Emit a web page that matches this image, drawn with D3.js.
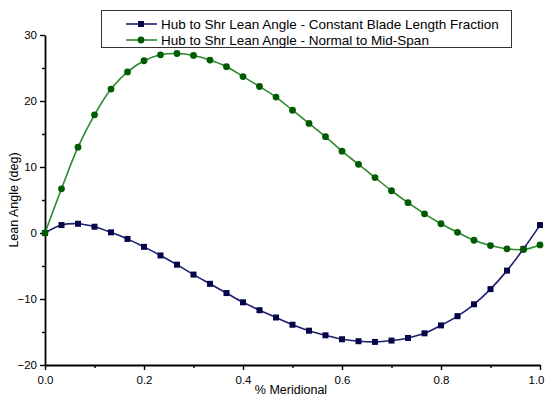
<!DOCTYPE html>
<html><head><meta charset="utf-8">
<script src="https://cdn.jsdelivr.net/npm/d3@7"></script>
<style>body{margin:0;background:#fff}svg{display:block}text{font-family:Arial,"Liberation Sans",sans-serif}</style>
</head><body>
<svg id="c" width="546" height="397"></svg>
<script>
const meridional = d3.range(31).map(i => i / 30);
const constantFraction = [0, 1.2, 1.4, 0.95, 0.1, -0.9, -2.1, -3.4, -4.8, -6.3,
  -7.7, -9.1, -10.5, -11.7, -12.8, -13.9, -14.8, -15.5, -16.1, -16.4,
  -16.5, -16.3, -15.9, -15.2, -14.0, -12.6, -10.8, -8.5, -5.7, -2.4, 1.2];
const normalMidSpan = [0, 6.7, 13.0, 17.9, 21.8, 24.4, 26.1, 27.0, 27.2, 26.9,
  26.2, 25.2, 23.7, 22.2, 20.6, 18.6, 16.6, 14.6, 12.4, 10.4,
  8.4, 6.4, 4.6, 2.9, 1.4, 0.1, -1.1, -1.9, -2.4, -2.5, -1.8];
const seriesNames = ["Hub to Shr Lean Angle - Constant Blade Length Fraction",
  "Hub to Shr Lean Angle - Normal to Mid-Span"];
const xTicks = [0, 0.2, 0.4, 0.6, 0.8, 1.0];
const yTicks = [-20, -10, 0, 10, 20, 30];

const svg = d3.select("#c");
const x = d3.scaleLinear().domain([0, 1]).range([45, 540]);
const y = d3.scaleLinear().domain([-20, 30]).range([365, 35]);

const blueLine = "#1f1f70", blueMark = "#05054a";
const greenLine = "#2b8a2b", greenMark = "#005a00";

// axes
const xAxis = svg.append("g").attr("transform", `translate(0,${y(-20)})`)
  .call(d3.axisBottom(x).tickValues(xTicks).tickFormat(d3.format(".1f")).tickSize(5).tickSizeOuter(0));
svg.append("g").attr("transform", `translate(0,${y(-20)})`)
  .call(d3.axisBottom(x).tickValues(d3.range(0.1, 1, 0.2)).tickFormat("").tickSize(3).tickSizeOuter(0))
  .select(".domain").remove();
const yAxis = svg.append("g").attr("transform", `translate(${x(0)},0)`)
  .call(d3.axisLeft(y).tickValues(yTicks).tickFormat(d3.format("d")).tickSize(5).tickSizeOuter(0));
svg.append("g").attr("transform", `translate(${x(0)},0)`)
  .call(d3.axisLeft(y).tickValues([-15, -5, 5, 15, 25]).tickFormat("").tickSize(3).tickSizeOuter(0))
  .select(".domain").remove();
svg.selectAll(".domain").attr("stroke-width", 1.8).attr("stroke", "#000");
svg.selectAll(".tick line").attr("stroke-width", 1.4).attr("stroke", "#000");
xAxis.selectAll("text").attr("font-size", 11.5).attr("dy", "0.95em").attr("fill", "#000")
  .attr("dx", d => d === 1 ? -4 : 0);
yAxis.selectAll("text").attr("font-size", 11.5).attr("fill", "#000");

svg.append("text").attr("x", 291).attr("y", 394).attr("text-anchor", "middle")
  .attr("font-size", 12.5).text("% Meridional");
svg.append("text").attr("transform", `translate(18,${y(5)}) rotate(-90)`).attr("text-anchor", "middle")
  .attr("font-size", 12.5).text("Lean Angle (deg)");

// series
const line = d3.line().x((d, i) => x(meridional[i])).y(d => y(d)).curve(d3.curveCatmullRom);
svg.append("path").datum(normalMidSpan).attr("d", line).attr("fill", "none")
  .attr("stroke", greenLine).attr("stroke-width", 1.6);
svg.append("path").datum(constantFraction).attr("d", line).attr("fill", "none")
  .attr("stroke", blueLine).attr("stroke-width", 1.6);
svg.append("g").selectAll("rect").data(constantFraction).join("rect")
  .attr("x", (d, i) => x(meridional[i]) - 3).attr("y", d => y(d) - 3)
  .attr("width", 6).attr("height", 6).attr("fill", blueMark);
svg.append("g").selectAll("circle").data(normalMidSpan).join("circle")
  .attr("cx", (d, i) => x(meridional[i])).attr("cy", d => y(d)).attr("r", 3.4).attr("fill", greenMark);

// legend
const lg = svg.append("g");
lg.append("rect").attr("x", 101.5).attr("y", 10.5).attr("width", 410).attr("height", 37)
  .attr("fill", "#fff").attr("stroke", "#333").attr("stroke-width", 1);
const rows = [{c: blueLine, m: blueMark, sq: true}, {c: greenLine, m: greenMark, sq: false}];
rows.forEach((r, i) => {
  const cy = 24 + i * 16;
  lg.append("line").attr("x1", 126).attr("x2", 157).attr("y1", cy).attr("y2", cy)
    .attr("stroke", r.c).attr("stroke-width", 1.6);
  if (r.sq) lg.append("rect").attr("x", 138).attr("y", cy - 3).attr("width", 6).attr("height", 6).attr("fill", r.m);
  else lg.append("circle").attr("cx", 141).attr("cy", cy).attr("r", 3.4).attr("fill", r.m);
  lg.append("text").attr("x", 161).attr("y", cy + 4.5).attr("font-size", 13.5).text(seriesNames[i]);
});
</script>
</body></html>
